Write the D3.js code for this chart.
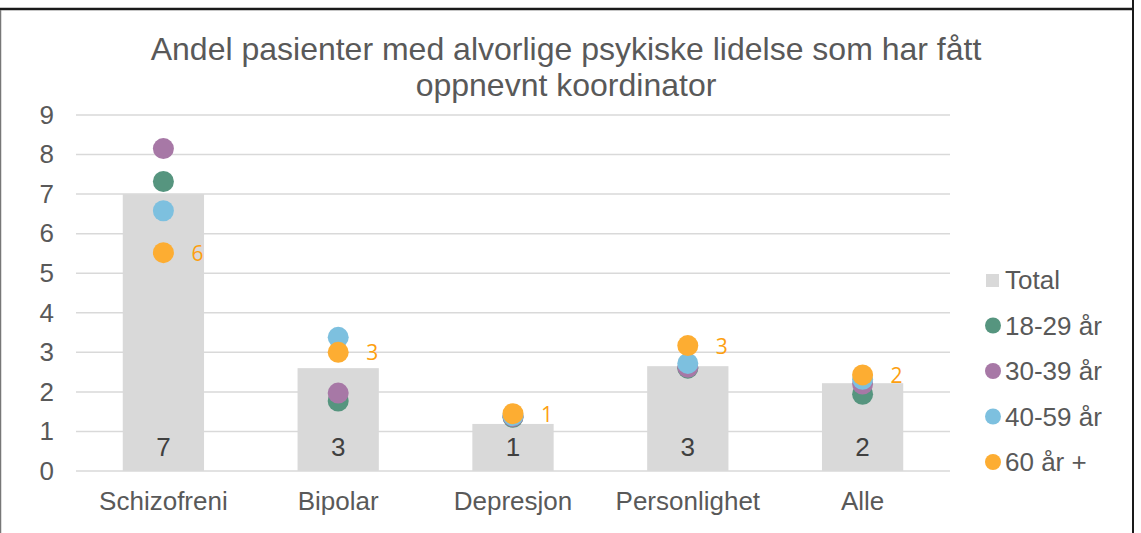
<!DOCTYPE html>
<html>
<head>
<meta charset="utf-8">
<script src="https://cdn.jsdelivr.net/npm/d3@7"></script>
<style>
  body { margin: 0; background: #fff; }
  svg { display: block; font-family: "Liberation Sans", Arial, sans-serif; }
</style>
</head>
<body>
<svg width="1141" height="533"></svg>
<script>
// data
const categories = ["Schizofreni", "Bipolar", "Depresjon", "Personlighet", "Alle"];
const total = [7.0, 2.6, 1.19, 2.65, 2.22];
const totalLabels = ["7", "3", "1", "3", "2"];
const age1829 = [7.32, 1.77, 1.36, 2.6, 1.94];
const age3039 = [8.15, 1.97, 1.38, 2.62, 2.2];
const age4059 = [6.58, 3.38, 1.4, 2.72, 2.32];
const age60 = [5.52, 3.0, 1.45, 3.17, 2.43];
const age60Labels = ["6", "3", "1", "3", "2"];
const yTicks = [0, 1, 2, 3, 4, 5, 6, 7, 8, 9];

const series = [
  { name: "18-29 år", values: age1829, color: "#56957f" },
  { name: "30-39 år", values: age3039, color: "#a778a6" },
  { name: "40-59 år", values: age4059, color: "#7dc0df" },
  { name: "60 år +", values: age60, color: "#fdad32" }
];

var svg = d3.select("svg");

// frame
svg.append("line").attr("x1", 0).attr("x2", 1134).attr("y1", 9).attr("y2", 9)
  .attr("stroke", "#1a1a1a").attr("stroke-width", 2.5);
svg.append("line").attr("x1", 1133).attr("x2", 1133).attr("y1", 0).attr("y2", 533)
  .attr("stroke", "#1a1a1a").attr("stroke-width", 2);
svg.append("line").attr("x1", 0.5).attr("x2", 0.5).attr("y1", 10).attr("y2", 533)
  .attr("stroke", "#777").attr("stroke-width", 1.5);

// title
var title = svg.append("text")
  .attr("text-anchor", "middle")
  .attr("font-size", "32px")
  .attr("fill", "#595959");
title.append("tspan").attr("x", 566).attr("y", 60).text("Andel pasienter med alvorlige psykiske lidelse som har fått");
title.append("tspan").attr("x", 566).attr("y", 96).text("oppnevnt koordinator");

var x = d3.scaleBand().domain(categories).range([76, 950]).paddingInner(0.535).paddingOuter(0.2675);
var y = d3.scaleLinear().domain([0, 9]).range([471, 115]);

// gridlines
svg.append("g").selectAll("line").data(yTicks).enter().append("line")
  .attr("x1", 76).attr("x2", 950)
  .attr("y1", d => y(d)).attr("y2", d => y(d))
  .attr("stroke", "#d9d9d9").attr("stroke-width", 1.5);

// y axis labels
var yAxis = svg.append("g")
  .attr("transform", "translate(54,0)")
  .call(d3.axisLeft(y).tickValues(yTicks).tickSize(0).tickPadding(0));
yAxis.select(".domain").remove();
yAxis.selectAll("text")
  .attr("font-size", "26px")
  .attr("font-family", "Liberation Sans, Arial, sans-serif")
  .attr("fill", "#595959");

// x axis labels
var xAxis = svg.append("g")
  .attr("transform", "translate(0,492)")
  .call(d3.axisBottom(x).tickSize(0).tickPadding(0));
xAxis.select(".domain").remove();
xAxis.selectAll("text")
  .attr("font-size", "26px")
  .attr("font-family", "Liberation Sans, Arial, sans-serif")
  .attr("fill", "#595959");

// bars
svg.append("g").selectAll("rect").data(categories).enter().append("rect")
  .attr("x", d => x(d))
  .attr("y", (d, i) => y(total[i]))
  .attr("width", x.bandwidth())
  .attr("height", (d, i) => y(0) - y(total[i]))
  .attr("fill", "#d9d9d9");

svg.append("g").selectAll("text").data(categories).enter().append("text")
  .attr("x", d => x(d) + x.bandwidth() / 2)
  .attr("y", 456)
  .attr("text-anchor", "middle")
  .attr("font-size", "26px")
  .attr("fill", "#404040")
  .text((d, i) => totalLabels[i]);

// dots
series.forEach(function (s) {
  svg.append("g").selectAll("circle").data(categories).enter().append("circle")
    .attr("cx", d => x(d) + x.bandwidth() / 2)
    .attr("cy", (d, i) => y(s.values[i]))
    .attr("r", 10.5)
    .attr("fill", s.color);
});

// labels for 60 år +
svg.append("g").selectAll("text").data(categories).enter().append("text")
  .attr("x", d => x(d) + x.bandwidth() / 2 + 28)
  .attr("y", (d, i) => y(age60[i]) + 8)
  .attr("font-size", "21px")
  .attr("font-family", "'Open Sans', 'DejaVu Sans', sans-serif")
  .attr("fill", "#fd9f10")
  .text((d, i) => age60Labels[i]);

// legend
var legendItems = [{ name: "Total", color: "#d9d9d9", square: true }].concat(series);
var legend = svg.append("g").selectAll("g").data(legendItems).enter().append("g")
  .attr("transform", (d, i) => "translate(993," + (280 + i * 45.5) + ")");
legend.each(function (d) {
  var g = d3.select(this);
  if (d.square) {
    g.append("rect").attr("x", -7).attr("y", -6).attr("width", 13).attr("height", 13).attr("fill", d.color);
  } else {
    g.append("circle").attr("r", 8).attr("fill", d.color);
  }
});
legend.append("text")
  .attr("x", 12)
  .attr("y", 9)
  .attr("font-size", "26px")
  .attr("fill", "#595959")
  .text(d => d.name);
</script>
</body>
</html>
